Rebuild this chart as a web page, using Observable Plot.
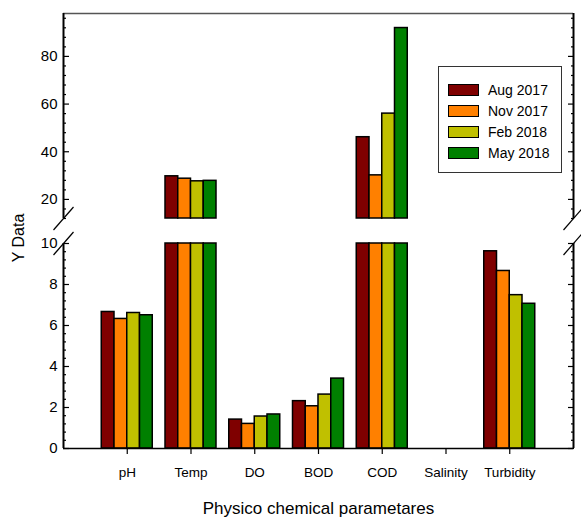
<!DOCTYPE html>
<html>
<head>
<meta charset="utf-8">
<script src="https://cdn.jsdelivr.net/npm/d3@7"></script>
<script src="https://cdn.jsdelivr.net/npm/@observablehq/plot@0.6"></script>
<style>
  body { margin: 0; background: #fff; }
  #chart { position: relative; width: 581px; height: 519px; overflow: hidden;
           font-family: Arial, "Liberation Sans", sans-serif; color: #000; }
  #chart svg { position: absolute; left: 0; overflow: visible; }
  #upper { top: 0; }
  #lower { top: 230px; }
  .ytitle { position: absolute; left: 19px; top: 238px; transform: translate(-50%, -50%) rotate(-90deg);
            font-size: 16px; white-space: nowrap; line-height: 16px; }
  .xtitle { position: absolute; left: 0; width: 637px; top: 500px; text-align: center;
            font-size: 17px; line-height: 17px; white-space: nowrap; }
  .legend { position: absolute; left: 438px; top: 66px; width: 124px; height: 107px;
            border: 1px solid #333; box-sizing: border-box; }
  .legend .row { position: absolute; left: 9px; height: 14px; display: flex; align-items: center; font-size: 14px; white-space: nowrap; }
  .legend .sw { width: 31px; height: 12px; border: 1.5px solid #000; box-sizing: border-box; margin-right: 9px; }
</style>
</head>
<body>
<div id="chart"></div>
<script>
// ---- data ----
const categories = ["pH", "Temp", "DO", "BOD", "COD", "Salinity", "Turbidity"];
const seriesNames = ["Aug 2017", "Nov 2017", "Feb 2018", "May 2018"];
const seriesColors = ["#7f0000", "#ff8000", "#c0c000", "#008000"];
const aug2017 = [6.66, 29.7, 1.41, 2.31, 46.1, 0, 9.62];
const nov2017 = [6.32, 28.7, 1.20, 2.06, 30.1, 0, 8.66];
const feb2018 = [6.61, 27.6, 1.56, 2.63, 56.0, 0, 7.48];
const may2018 = [6.50, 27.8, 1.66, 3.41, 91.9, 0, 7.06];
const lowerMajorTicks = [0, 2, 4, 6, 8, 10];
const upperMajorTicks = [20, 40, 60, 80];
const lowerDomain = [0, 10];
const upperDomain = [12, 98];
const yTitle = "Y Data";
const xTitle = "Physico chemical parametares";

// ---- table ----
const seriesValues = [aug2017, nov2017, feb2018, may2018];
const rows = [];
categories.forEach((c, i) => seriesValues.forEach((vals, j) => {
  rows.push({category: c, ci: i, series: seriesNames[j], sj: j, value: vals[i]});
}));
const groupWidth = 0.8, barWidth = groupWidth / seriesNames.length;
const bx1 = d => d.ci + 1 - groupWidth / 2 + d.sj * barWidth;
const bx2 = d => bx1(d) + barWidth;
const xDomain = [0, categories.length + 1];
const lowerMinor = d3.range(0, 10.001, 0.4).map(v => +v.toFixed(2)).filter(v => !lowerMajorTicks.includes(v));
const upperMinor = d3.range(12, 97, 4).filter(v => !upperMajorTicks.includes(v));

const slash = {draw(ctx, size) { const l = Math.sqrt(size / Math.PI); ctx.moveTo(-0.87 * l, l); ctx.lineTo(0.87 * l, -l); }};
const fmtBlank = () => "";

function yAxes(major, minor) {
  return [
    Plot.axisY(major, {anchor: "left", tickSize: -6, tickFormat: fmtBlank, label: null, strokeWidth: 1.2}),
    Plot.axisY(minor, {anchor: "left", tickSize: -3, tickFormat: fmtBlank, label: null, strokeWidth: 1.2}),
    Plot.axisY(major, {anchor: "left", tickSize: 0, tickPadding: 6, label: null, fontSize: 15}),
    Plot.axisY(major, {anchor: "right", tickSize: -6, tickFormat: fmtBlank, label: null, strokeWidth: 1.2}),
    Plot.axisY(minor, {anchor: "right", tickSize: -3, tickFormat: fmtBlank, label: null, strokeWidth: 1.2})
  ];
}

const common = {
  width: 581, marginLeft: 63, marginRight: 8,
  style: {fontFamily: 'Arial, "Liberation Sans", sans-serif', fontSize: "13px", background: "transparent", overflow: "visible"},
  color: {domain: seriesNames, range: seriesColors}
};

const upper = Plot.plot({
  ...common,
  height: 230, marginTop: 13, marginBottom: 12,
  x: {domain: xDomain, axis: null},
  y: {domain: upperDomain, clamp: true},
  marks: [
    Plot.rectY(rows.filter(d => d.value > upperDomain[0]), {x1: bx1, x2: bx2, y1: () => upperDomain[0], y2: "value", fill: "series", stroke: "#000", strokeWidth: 1.5}),
    ...yAxes(upperMajorTicks, upperMinor),
    Plot.ruleY([upperDomain[1]], {stroke: "#555", strokeWidth: 1.5}),
    Plot.ruleX([xDomain[0]], {stroke: "#000", strokeWidth: 2}),
    Plot.ruleX([xDomain[1]], {stroke: "#000", strokeWidth: 2}),
    Plot.dot([0], {x: null, y: null, frameAnchor: "bottom-left", symbol: slash, r: 11.5, stroke: "#000", strokeWidth: 1.2}),
    Plot.dot([0], {x: null, y: null, frameAnchor: "bottom-right", symbol: slash, r: 11.5, stroke: "#000", strokeWidth: 1.2})
  ]
});
upper.id = "upper";

const lower = Plot.plot({
  ...common,
  height: 289, marginTop: 13, marginBottom: 71,
  x: {domain: xDomain},
  y: {domain: lowerDomain, clamp: true},
  marks: [
    Plot.rectY(rows.filter(d => d.value > 0), {x1: bx1, x2: bx2, y1: () => 0, y2: "value", fill: "series", stroke: "#000", strokeWidth: 1.5}),
    ...yAxes(lowerMajorTicks, lowerMinor),
    Plot.axisX(d3.range(1, categories.length + 1), {anchor: "bottom", tickSize: 6, tickPadding: 13, tickFormat: d => categories[d - 1], label: null, fontSize: 13.5, strokeWidth: 1.2}),
    Plot.ruleY([lowerDomain[0]], {stroke: "#000", strokeWidth: 1.5}),
    Plot.ruleX([xDomain[0]], {stroke: "#000", strokeWidth: 2}),
    Plot.ruleX([xDomain[1]], {stroke: "#000", strokeWidth: 2}),
    Plot.dot([0], {x: null, y: null, frameAnchor: "top-left", symbol: slash, r: 11.5, stroke: "#000", strokeWidth: 1.2}),
    Plot.dot([0], {x: null, y: null, frameAnchor: "top-right", symbol: slash, r: 11.5, stroke: "#000", strokeWidth: 1.2})
  ]
});
lower.id = "lower";

const chart = document.getElementById("chart");
chart.append(upper, lower);

const yt = document.createElement("div"); yt.className = "ytitle"; yt.textContent = yTitle; chart.append(yt);
const xt = document.createElement("div"); xt.className = "xtitle"; xt.textContent = xTitle; chart.append(xt);

const legend = document.createElement("div"); legend.className = "legend";
seriesNames.forEach((s, j) => {
  const row = document.createElement("div"); row.className = "row";
  row.style.top = (16 + j * 21) + "px";
  const sw = document.createElement("div"); sw.className = "sw"; sw.style.background = seriesColors[j];
  const t = document.createElement("span"); t.textContent = s;
  row.append(sw, t); legend.append(row);
});
chart.append(legend);
</script>
</body>
</html>
